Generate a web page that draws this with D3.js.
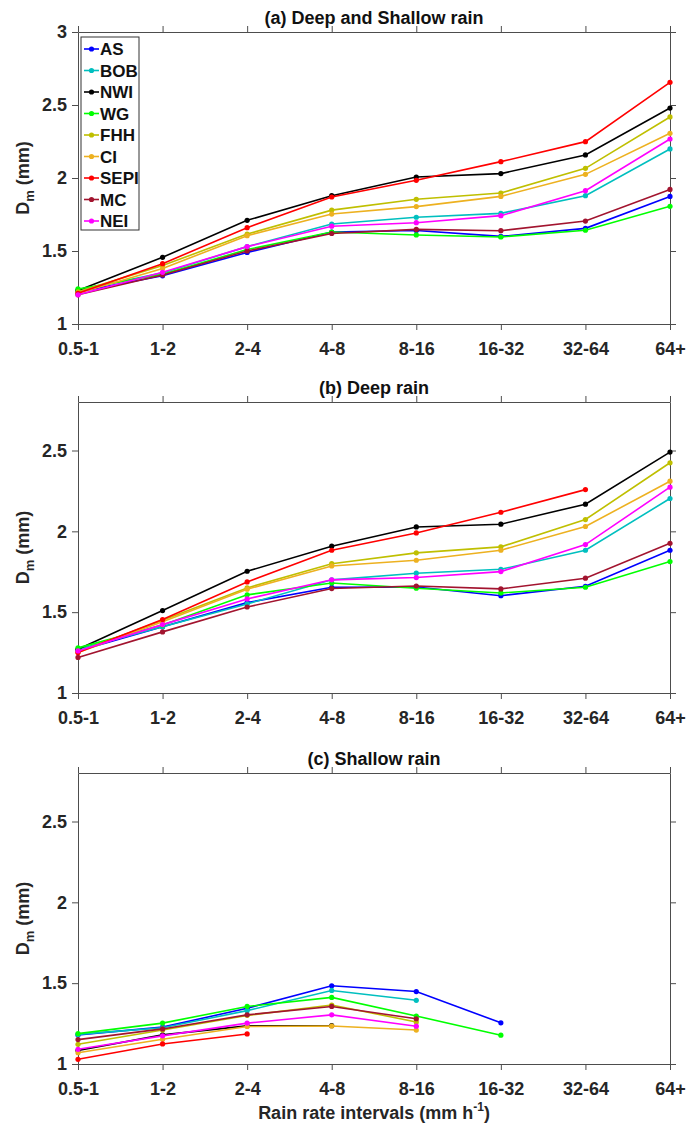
<!DOCTYPE html>
<html>
<head>
<meta charset="utf-8">
<script src="https://cdn.jsdelivr.net/npm/d3@7"></script>
<style>
    body { margin: 0; background: #fff; }
    svg { font-family: "Liberation Sans", Arial, sans-serif; font-weight: bold; }
    .axis path, .axis line { stroke: #4d4d4d; stroke-width: 1; }
    .axis text { font-size: 18px; fill: #262626; font-family: "Liberation Sans", Arial, sans-serif; font-weight: bold; }
    .title { font-size: 18px; fill: #111; }
    .axis-label { font-size: 18px; fill: #262626; }
    .legend text { font-size: 17px; fill: #111; }
</style>
</head>
<body>
<svg id="chart" width="693" height="1128"></svg>
<script>
const categories = ['0.5-1', '1-2', '2-4', '4-8', '8-16', '16-32', '32-64', '64+'];
const regions = ['AS', 'BOB', 'NWI', 'WG', 'FHH', 'CI', 'SEPI', 'MC', 'NEI'];
const colors = ['#0000ff', '#00bfbf', '#000000', '#00ff00', '#bfbf00', '#edb120', '#ff0000', '#a2142f', '#ff00ff'];

// (a) Deep and Shallow rain
const deepShallow = {
    AS:   [1.22, 1.33, 1.49, 1.63, 1.64, 1.60, 1.655, 1.874],
    BOB:  [1.23, 1.35, 1.53, 1.685, 1.731, 1.758, 1.879, 2.199],
    NWI:  [1.23, 1.457, 1.71, 1.879, 2.007, 2.03, 2.158, 2.479],
    WG:   [1.24, 1.34, 1.51, 1.63, 1.61, 1.596, 1.642, 1.806],
    FHH:  [1.22, 1.40, 1.616, 1.78, 1.854, 1.897, 2.066, 2.418],
    CI:   [1.21, 1.38, 1.605, 1.753, 1.804, 1.874, 2.025, 2.306],
    SEPI: [1.21, 1.413, 1.66, 1.87, 1.984, 2.112, 2.249, 2.655],
    MC:   [1.20, 1.336, 1.50, 1.62, 1.648, 1.639, 1.705, 1.922],
    NEI:  [1.20, 1.354, 1.53, 1.67, 1.694, 1.742, 1.913, 2.267]
};

// (b) Deep rain
const deep = {
    AS:   [1.26, 1.41, 1.559, 1.654, 1.656, 1.602, 1.66, 1.883],
    BOB:  [1.27, 1.41, 1.551, 1.70, 1.741, 1.765, 1.883, 2.203],
    NWI:  [1.27, 1.51, 1.753, 1.908, 2.027, 2.044, 2.168, 2.49],
    WG:   [1.279, 1.42, 1.607, 1.68, 1.648, 1.619, 1.654, 1.813],
    FHH:  [1.255, 1.45, 1.65, 1.80, 1.867, 1.904, 2.073, 2.424],
    CI:   [1.25, 1.44, 1.642, 1.786, 1.821, 1.883, 2.03, 2.31],
    SEPI: [1.25, 1.454, 1.687, 1.883, 1.99, 2.118, 2.258, null],
    MC:   [1.22, 1.378, 1.532, 1.646, 1.662, 1.644, 1.71, 1.926],
    NEI:  [1.26, 1.423, 1.582, 1.70, 1.714, 1.751, 1.918, 2.273]
};

// (c) Shallow rain
const shallow = {
    AS:   [1.18, 1.228, 1.345, 1.484, 1.448, 1.255, null, null],
    BOB:  [1.183, 1.224, 1.33, 1.455, 1.394, null, null, null],
    NWI:  [1.083, 1.18, 1.236, 1.237, null, null, null, null],
    WG:   [1.188, 1.253, 1.356, 1.412, 1.297, 1.178, null, null],
    FHH:  [1.122, 1.21, 1.30, 1.365, 1.26, null, null, null],
    CI:   [1.07, 1.153, 1.232, 1.235, 1.21, null, null, null],
    SEPI: [1.029, 1.124, 1.186, null, null, null, null, null],
    MC:   [1.151, 1.217, 1.304, 1.356, 1.28, null, null, null],
    NEI:  [1.091, 1.174, 1.253, 1.304, 1.234, null, null, null]
};

const ticksA = [1, 1.5, 2, 2.5, 3];
const ticksBC = [1, 1.5, 2, 2.5];

const svg = d3.select('#chart');
const left = 78, right = 670;

const x = d3.scalePoint()
    .domain(categories)
    .range([left, right]);

function drawPanel(data, title, top, bottom, yMax, yTicks, showLegend) {
    const y = d3.scaleLinear()
        .domain([1, yMax])
        .range([bottom, top]);

    const g = svg.append('g');

    // box axes, ticks pointing out
    g.append('g')
        .attr('class', 'axis')
        .attr('transform', `translate(0,${bottom})`)
        .call(d3.axisBottom(x).tickSize(6).tickSizeOuter(0).tickPadding(12));

    g.append('g')
        .attr('class', 'axis')
        .attr('transform', `translate(0,${top})`)
        .call(d3.axisTop(x).tickSize(6).tickSizeOuter(0).tickFormat(''));

    g.append('g')
        .attr('class', 'axis')
        .attr('transform', `translate(${left},0)`)
        .call(d3.axisLeft(y).tickValues(yTicks).tickSize(6).tickSizeOuter(0).tickPadding(5)
            .tickFormat(d => String(d)));

    g.append('g')
        .attr('class', 'axis')
        .attr('transform', `translate(${right},0)`)
        .call(d3.axisRight(y).tickValues(yTicks).tickSize(6).tickSizeOuter(0).tickFormat(''));

    // lines
    const line = d3.line()
        .defined(d => d.v != null)
        .x(d => x(d.c))
        .y(d => y(d.v));

    regions.forEach((r, i) => {
        const pts = data[r].map((v, j) => ({c: categories[j], v: v}));
        g.append('path')
            .datum(pts)
            .attr('fill', 'none')
            .attr('stroke', colors[i])
            .attr('stroke-width', 1.6)
            .attr('d', line);
        g.selectAll(null)
            .data(pts.filter(d => d.v != null))
            .enter()
            .append('circle')
            .attr('cx', d => x(d.c))
            .attr('cy', d => y(d.v))
            .attr('r', 2.6)
            .attr('fill', colors[i]);
    });

    // title
    g.append('text')
        .attr('class', 'title')
        .attr('text-anchor', 'middle')
        .attr('x', (left + right) / 2)
        .attr('y', top - 8)
        .text(title);

    // y label
    const yl = g.append('text')
        .attr('class', 'axis-label')
        .attr('text-anchor', 'middle')
        .attr('transform', `translate(29,${(top + bottom) / 2}) rotate(-90)`);
    yl.append('tspan').text('D');
    yl.append('tspan').attr('font-size', '13px').attr('dy', 5).text('m');
    yl.append('tspan').attr('dy', -5).text(' (mm)');

    if (showLegend) {
        const lg = g.append('g').attr('class', 'legend');
        lg.append('rect')
            .attr('x', 81).attr('y', 37)
            .attr('width', 58).attr('height', 193)
            .attr('fill', '#fff')
            .attr('stroke', '#333')
            .attr('stroke-width', 1);
        regions.forEach((r, i) => {
            const yy = 49 + i * 21.5;
            lg.append('line')
                .attr('x1', 84).attr('x2', 99)
                .attr('y1', yy).attr('y2', yy)
                .attr('stroke', colors[i]).attr('stroke-width', 1.6);
            lg.append('circle')
                .attr('cx', 91.5).attr('cy', yy).attr('r', 2.6)
                .attr('fill', colors[i]);
            lg.append('text')
                .attr('x', 100).attr('y', yy + 6)
                .text(r);
        });
    }
}

drawPanel(deepShallow, '(a) Deep and Shallow rain', 32, 324, 3, ticksA, true);
drawPanel(deep, '(b) Deep rain', 402, 693, 2.8, ticksBC, false);
drawPanel(shallow, '(c) Shallow rain', 773, 1064, 2.8, ticksBC, false);

// x axis label
const xl = svg.append('text')
    .attr('class', 'axis-label')
    .attr('text-anchor', 'middle')
    .attr('x', 374)
    .attr('y', 1119);
xl.append('tspan').text('Rain rate intervals (mm h');
xl.append('tspan').attr('font-size', '12px').attr('dy', -8).text('-1');
xl.append('tspan').attr('dy', 8).text(')');
</script>
</body>
</html>
